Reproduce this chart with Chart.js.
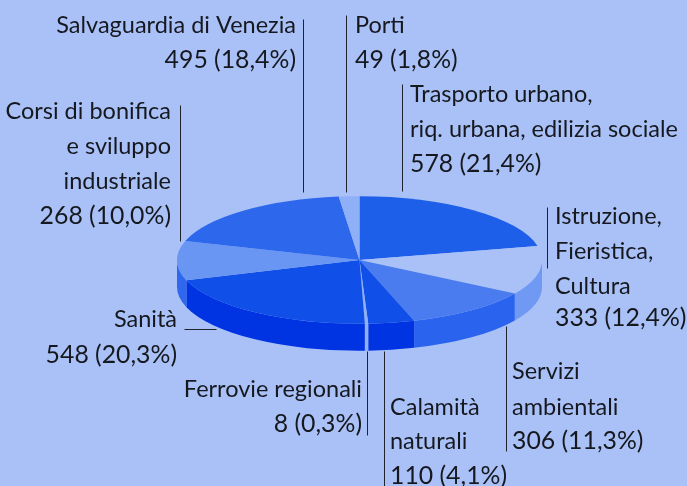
<!DOCTYPE html>
<html><head><meta charset="utf-8">
<style>html,body{margin:0;padding:0;background:#a9c1f6}#w{width:687px;height:486px;position:relative}</style>
<script src="https://cdn.jsdelivr.net/npm/chart.js@4"></script></head>
<body><div id="w"><canvas id="c" width="687" height="486"></canvas></div>
<script>
const categories = ["Trasporto urbano, riq. urbana, edilizia sociale","Istruzione, Fieristica, Cultura","Servizi ambientali","Calamità naturali","Ferrovie regionali","Sanità","Corsi di bonifica e sviluppo industriale","Salvaguardia di Venezia","Porti"];
const values = [578,333,306,110,8,548,268,495,49];
const topColors = ["#1e5fe9","#a9c1f6","#4a7cf0","#1050e8","#8fb0f7","#1050e8","#6a96f3","#2d68ec","#8fb0f7"];
const wallColors = ["#1e5fe9","#7099f3","#2a64ee","#0033e2","#8fb0f7","#0033e2","#2f68ee","#2d68ec","#8fb0f7"];
const labelLines = [
 {a:"left",x:410,y:[102,137,172],t:["Trasporto urbano,","riq. urbana, edilizia sociale","578 (21,4%)"]},
 {a:"left",x:555,y:[224,259,294,326],t:["Istruzione,","Fieristica,","Cultura","333 (12,4%)"]},
 {a:"left",x:512,y:[379,415,449],t:["Servizi","ambientali","306 (11,3%)"]},
 {a:"left",x:390,y:[415,449,484],t:["Calamità","naturali","110 (4,1%)"]},
 {a:"right",x:362,y:[397,432],t:["Ferrovie regionali","8 (0,3%)"]},
 {a:"right",x:177,y:[327,363],t:["Sanità","548 (20,3%)"]},
 {a:"right",x:171,y:[119,154,189,224],t:["Corsi di bonifica","e sviluppo","industriale","268 (10,0%)"]},
 {a:"right",x:296,y:[33,68],t:["Salvaguardia di Venezia","495 (18,4%)"]},
 {a:"left",x:355,y:[33,68],t:["Porti","49 (1,8%)"]}
];
const leaders = [[303,19,303,192],[180,105,180,241],[346,15,346,192],[402,84,402,191],[547,207,547,268],[506,326,506,451],[384,351,384,486],[367,351,367,435],[184,329,216,329]];
const squash = 63.8/182.5, depth = 27;

const pie3d = {
  id:"pie3d",
  beforeDatasetsDraw(chart){
    const ctx = chart.ctx, arcs = chart.getDatasetMeta(0).data;
    const cx = arcs[0].x, cy = arcs[0].y, R = arcs[0].outerRadius;
    arcs.forEach((arc,i)=>{
      [[0,Math.PI],[2*Math.PI,3*Math.PI]].forEach(([lo,hi])=>{
        const a0 = Math.max(arc.startAngle,lo), a1 = Math.min(arc.endAngle,hi);
        if(a1<=a0) return;
        ctx.beginPath();
        ctx.ellipse(cx,cy,R,R*squash,0,a0,a1,false);
        ctx.ellipse(cx,cy+depth,R,R*squash,0,a1,a0,true);
        ctx.closePath();
        ctx.fillStyle = wallColors[i];
        ctx.fill();
      });
    });
    ctx.save();
    ctx.translate(cx,cy); ctx.scale(1,squash); ctx.translate(-cx,-cy);
  },
  afterDatasetsDraw(chart){
    const ctx = chart.ctx;
    ctx.restore();
    ctx.strokeStyle = "#20222c"; ctx.lineWidth = 1;
    leaders.forEach(l=>{ctx.beginPath();ctx.moveTo(l[0]+.5,l[1]+.5);ctx.lineTo(l[2]+.5,l[3]+.5);ctx.stroke();});
    ctx.fillStyle = "#16181f"; ctx.textBaseline="alphabetic";
    labelLines.forEach(g=>{ctx.textAlign=g.a; g.t.forEach((s,k)=>{
      ctx.font = (/^\d/.test(s) ? "24.8px" : "23.5px") + " Lato";
      ctx.fillText(s,g.x,g.y[k]);
    });});
  }
};
new Chart(document.getElementById("c"),{
  type:"pie",
  data:{labels:categories,datasets:[{data:values,backgroundColor:topColors,borderWidth:0,radius:182.5}]},
  options:{responsive:false,animation:false,layout:{padding:{left:32,top:34}},
    plugins:{legend:{display:false},tooltip:{enabled:false},title:{display:false}}},
  plugins:[pie3d]
});
</script></body></html>
